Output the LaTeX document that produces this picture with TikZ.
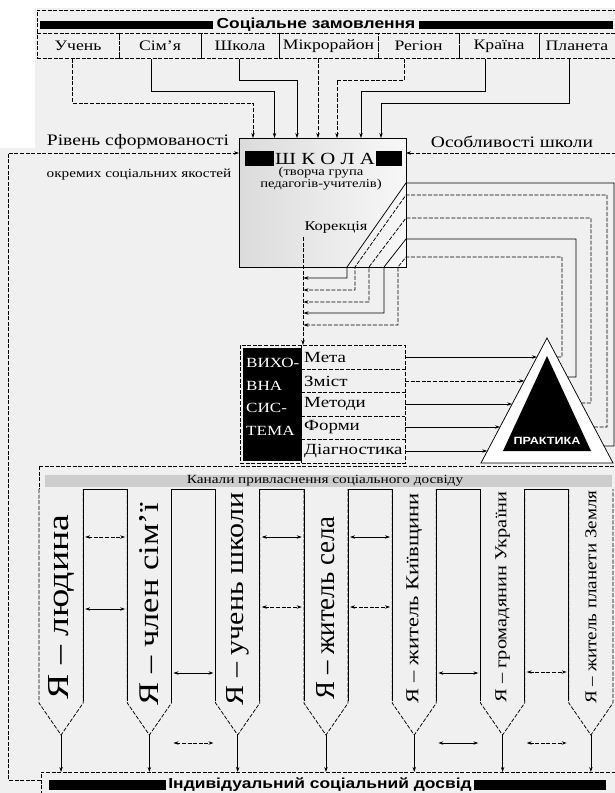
\documentclass[tikz,border=0pt]{standalone}
\usepackage{fontspec}
\usepackage{graphicx}
\setmainfont{Liberation Serif}[FakeStretch=1.22]
\newfontfamily\sansbold{Liberation Sans}[FakeStretch=1.2]
\newfontfamily\plainserif{Liberation Serif}
\usetikzlibrary{calc,positioning,arrows.meta}

\definecolor{paper}{RGB}{240,240,240}
\definecolor{barfill}{RGB}{205,205,205}

\newcommand\hdrfont{\sansbold\bfseries\fontsize{14.5}{16}\selectfont}
\newcommand\cellfont{\fontsize{14.5}{16}\selectfont}
\newcommand\sidefont{\fontsize{16}{18}\selectfont}
\newcommand\rowfont{\fontsize{15.5}{17}\selectfont}

\tikzset{
  link/.style={line width=0.75pt},
  dlink/.style={line width=0.75pt,dash pattern=on 4pt off 1.6pt},
  cell/.style={draw,dlink,inner sep=0pt,minimum height=25pt,font=\cellfont},
  lbl/.style={inner sep=0pt},
}

\begin{document}
\begin{tikzpicture}[x=1pt,y=-1pt,>={Stealth[length=5pt,width=3.4pt]}]
\useasboundingbox (0,0) rectangle (615,793);
\fill[paper] (0,0) rectangle (615,793);
\fill[white] (0,0) rectangle (615,8);
\fill[white] (0,0) rectangle (35,148);

% Соціальне замовлення
\draw[dlink] (37,33) -- (37,10) -- (616,10);
\node[lbl,font=\hdrfont] (order) at (316,24.5) {Соціальне замовлення};
\fill (40,20.5) rectangle ($(order.west)+(-3,4.5)$);
\fill ($(order.east)+(3,-4)$) rectangle (613,29);

\foreach \cx/\w/\nm/\txt in {78/82/uchen/Учень, 160/82/simja/Сім’я, 240/78/shkola/Школа,
    328.5/99/mikro/Мікрорайон, 418.5/81/region/Регіон, 499/80/kraina/Країна, 577/76/planeta/Планета}
  \node[cell,minimum width=\w pt] (\nm) at (\cx,46) {\txt};

\draw[dlink,->] (uchen.south) ++(-5.5,0) |- (253,103) -- (253,138);
\draw[link,->] (simja.south) ++(-9,0) |- (274.5,91) -- (274.5,138);
\draw[link,->] (shkola.south) ++(-1,0) |- (297,80) -- (297,138);
\draw[dlink,->] (mikro.south) ++(-10.5,0) -- (318,138);
\draw[dlink,->] (region.south) ++(-14.5,0) |- (337,80) -- (337,138);
\draw[link,->] (kraina.south) ++(-14,0) |- (361,91) -- (361,138);
\draw[link,->] (planeta.south) ++(-8,0) |- (381,103) -- (381,138);

% ШКОЛА
\node[draw,link,left color=black!14,right color=black!3,minimum width=167pt,
      minimum height=129pt,inner sep=0pt] (school) at (322.5,202.5) {};
\node[lbl,font=\fontsize{17}{18}\selectfont] (schoolhdr) at (325,158.5) {Ш К О Л А};
\fill (245,151) rectangle ($(schoolhdr.west)+(-1.5,7.5)$);
\fill ($(schoolhdr.east)+(1.5,-7.5)$) rectangle (402,166);
\node[lbl,align=center,font=\fontsize{12}{12}\selectfont] (team) at (321,179)
  {(творча група\\педагогів-учителів)};
\node[lbl,font=\fontsize{13.5}{15}\selectfont] (korr) at (336,227) {Корекція};

\node[lbl,font=\sidefont] (level) at (138,142) {Рівень сформованості};
\node[lbl,font=\fontsize{12.5}{14}\selectfont] (qual) at (139,175) {окремих соціальних якостей};
\node[lbl,font=\sidefont] (feat) at (512,142) {Особливості школи};

\draw[dlink,->] (41,780) -- (8,780) -- (8,153) -- (239,153);
\draw[dlink,->] (616,153) -- (406,153);

% зворотні зв'язки від практики
\foreach \yt/\xv/\yh/\xd/\ya/\st in {357/562/257/398/325/dlink, 377/576/239/384/313/link,
    403/591/218/369/302/dlink, 427/607/195/355/290/dlink, 446/614/183/347/278/link} {
  \pgfmathsetmacro\xr{613-(463-\yt)*0.528}
  \draw[\st,->] (\xr,\yt) -- (\xv,\yt) -- (\xv,\yh) -- (406,\yh) -- (\xd,267)
    -- (\xd,\ya) -- (303.5,\ya);
}
\draw[dlink,->] (303,237) -- (303,345);

% Виховна система
\node[draw,dlink,minimum width=165pt,minimum height=118pt,inner sep=0pt] (vs) at (322.5,404) {};
\fill (243,347.5) rectangle (301,460.5);
\draw[link] (301,345) -- (301,463);
\node[lbl,white,align=left,anchor=west,font=\fontsize{14}{22.5}\selectfont] (vstxt) at (246,397)
  {ВИХО-\\ВНА\\СИС-\\ТЕМА};
\foreach \y in {369,392.5,416,439.5}
  \draw[dlink] (301,\y) -- (405,\y);
\foreach \nm/\y/\txt/\st in {meta/357/Мета/link, zmist/381/Зміст/dlink, metody/404/Методи/link,
    formy/427/Форми/link, diag/451/Діагностика/link} {
  \node[lbl,anchor=west,font=\rowfont] (\nm) at (304,\y) {\txt};
  \pgfmathsetmacro\xl{481+(463-\y)*0.528}
  \draw[\st,->] (405,\y) -- (\xl,\y);
}

% Практика
\draw[link,fill=white] (547,338) -- (481,463) -- (613,463) -- cycle;
\fill (547,356) -- (503,451) -- (591,451) -- cycle;
\node[lbl,white,font=\sansbold\bfseries\fontsize{10.5}{12}\selectfont] (prakt) at (547,441) {ПРАКТИКА};

% Канали привласнення
\draw[dlink] (39,466) -- (616,466);
\fill[barfill] (45,475) rectangle (612,487);
\node[lbl,font=\fontsize{12.5}{14}\selectfont] (chan) at (325,481)
  {Канали привласнення соціального досвіду};

\foreach \g in {1,...,6} {
  \pgfmathsetmacro\xa{39+44.15*(2*\g-1)}
  \draw[link] (\xa,701) -- (\xa,489) -- (\xa+44.15,489) -- (\xa+44.15,701);
}
\draw[dlink] (39,466) -- (39,489);
\foreach \i/\txt/\pl/\ph/\cy in {1/Я – людина/185/20/607, 2/Я – член сім’ї/202/19/604,
    3/Я – учень школи/212/17/599, 4/Я – житель села/183/18/608,
    5/Я – житель Київщини/210/12/598, 6/Я – громадянин України/211/11/597,
    7/Я – житель планети Земля/213/11/597} {
  \pgfmathsetmacro\xa{39+88.3*(\i-1)}
  \pgfmathsetmacro\xm{\xa+22.075}
  \draw[dlink] (\xa,489) -- (\xa,703) -- (\xm,735) -- (\xa+44.15,703) -- (\xa+44.15,489);
  \node[lbl,rotate=90] (p\i) at (\xm,\cy) {\resizebox{\pl pt}{\ph pt}{\plainserif \txt}};
  \draw[link,->] (\xm,735) -- (\xm,772);
}
\foreach \g/\y/\st in {1/537/dlink, 1/609/link, 3/537/link, 3/607/dlink, 4/537/link, 4/607/dlink,
    2/673/link, 2/743/dlink, 5/673/link, 5/743/link, 6/672/dlink, 6/743/dlink} {
  \pgfmathsetmacro\xa{39+44.15*(2*\g-1)}
  \draw[\st,<->] (\xa+2,\y) -- (\xa+42,\y);
}

% Індивідуальний соціальний досвід
\draw[dlink] (41,795) -- (41,772) -- (616,772);
\node[lbl,font=\hdrfont] (indiv) at (320,785) {Індивідуальний соціальний досвід};
\fill (49,780) rectangle ($(indiv.west)+(-2,5)$);
\fill ($(indiv.east)+(2,-5)$) rectangle (606,790);
\end{tikzpicture}
\end{document}
